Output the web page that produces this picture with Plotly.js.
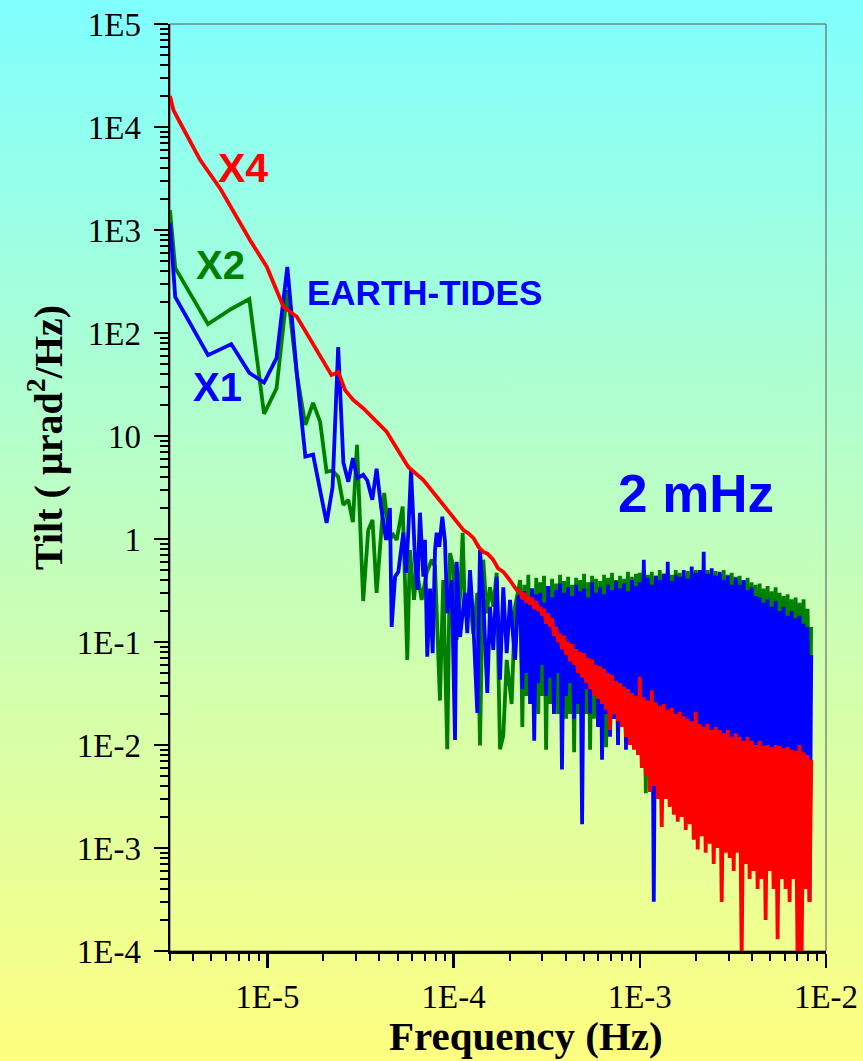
<!DOCTYPE html>
<html>
<head>
<meta charset="utf-8">
<script src="https://cdn.plot.ly/plotly-3.0.1.min.js"></script>
<style>
  html, body { margin:0; padding:0; }
  body { width:863px; height:1061px; background: linear-gradient(to bottom, #80FFFF 0%, #FFFF80 100%); overflow:hidden; }
  #chart { width:863px; height:1061px; }
</style>
</head>
<body>
<div id="chart"></div>
<script>
// ---------- X1 (blue) low/mid frequency part ----------
const fX1 = [3.0e-6, 3.2e-6, 4.8e-6, 6.4e-6, 8.0e-6, 9.6e-6, 1.12e-5, 1.28e-5, 1.44e-5, 1.60e-5,
  1.76e-5, 1.92e-5, 2.08e-5, 2.24e-5, 2.40e-5, 2.56e-5, 2.72e-5, 2.88e-5, 3.04e-5, 3.27e-5,
  3.44e-5, 3.66e-5, 3.86e-5, 4.08e-5, 4.34e-5, 4.55e-5, 4.65e-5, 4.85e-5, 5.05e-5, 5.37e-5,
  5.55e-5, 5.71e-5, 5.91e-5, 6.21e-5, 6.39e-5, 6.60e-5, 6.88e-5, 7.02e-5, 7.22e-5, 7.47e-5,
  7.72e-5, 7.95e-5, 8.11e-5, 8.38e-5, 8.70e-5, 8.99e-5, 9.25e-5, 9.77e-5, 1.018e-4, 1.039e-4,
  1.083e-4, 1.151e-4, 1.185e-4, 1.225e-4, 1.276e-4, 1.341e-4, 1.386e-4, 1.444e-4, 1.517e-4, 1.569e-4,
  1.634e-4, 1.704e-4, 1.775e-4, 1.849e-4, 1.929e-4, 2.01e-4, 2.14e-4, 2.23e-4];
const vX1 = [1170, 224, 61, 78, 41, 33, 57, 438, 40, 6.3,
  6.6, 3.0, 1.43, 3.2, 73, 5.5, 3.6, 6.1, 3.9, 4.2,
  3.7, 2.4, 4.8, 2.05, 0.98, 2.0, 0.14, 0.43, 0.48, 1.15,
  0.47, 1.15, 4.7, 0.63, 0.32, 1.8, 0.43, 0.98, 0.072, 0.33,
  0.078, 0.78, 1.15, 0.84, 1.65, 0.96, 0.19, 0.40, 0.0112, 0.60,
  0.112, 0.30, 0.122, 0.50, 0.153, 0.0205, 0.78, 0.256, 0.032, 0.22,
  0.084, 0.43, 0.043, 0.34, 0.078, 0.256, 0.067, 0.275];

// ---------- X2 (green) low/mid frequency part ----------
const fX2 = [3.0e-6, 3.2e-6, 4.8e-6, 6.4e-6, 8.0e-6, 9.6e-6, 1.12e-5, 1.28e-5, 1.44e-5, 1.60e-5,
  1.76e-5, 1.92e-5, 2.08e-5, 2.24e-5, 2.40e-5, 2.56e-5, 2.72e-5, 2.88e-5, 3.03e-5, 3.27e-5,
  3.48e-5, 3.67e-5, 3.86e-5, 4.24e-5, 4.52e-5, 4.74e-5, 4.95e-5, 5.33e-5, 5.48e-5, 5.64e-5,
  5.83e-5, 6.13e-5, 6.34e-5, 6.74e-5, 7.17e-5, 7.63e-5, 7.95e-5, 8.45e-5, 8.80e-5, 9.25e-5,
  9.57e-5, 9.97e-5, 1.039e-4, 1.083e-4, 1.119e-4, 1.151e-4, 1.225e-4, 1.276e-4, 1.341e-4, 1.386e-4,
  1.444e-4, 1.506e-4, 1.569e-4, 1.634e-4, 1.704e-4, 1.775e-4, 1.849e-4, 1.929e-4, 2.05e-4, 2.14e-4];
const vX2 = [1560, 428, 122, 171, 214, 16.4, 29, 261, 40, 12.8,
  21, 13.7, 4.5, 4.6, 4.0, 2.14, 2.4, 1.46, 8.2, 0.25,
  1.22, 1.53, 0.3, 2.8, 0.98, 1.1, 0.98, 2.06, 0.40, 0.067,
  0.78, 0.256, 0.50, 0.256, 0.47, 0.63, 0.54, 0.027, 0.40, 0.0091,
  0.73, 0.54, 0.105, 0.275, 1.15, 0.19, 0.256, 0.12, 0.30, 0.0099,
  0.63, 0.19, 0.34, 0.22, 0.47, 0.0091, 0.0123, 0.067, 0.025, 0.22];

// ---------- X4 (red) low/mid frequency part ----------
const fX4 = [3.0e-6, 3.13e-6, 3.4e-6, 4.35e-6, 5.6e-6, 8.06e-6, 9.92e-6, 1.22e-5, 1.44e-5, 1.63e-5, 1.84e-5,
  2.21e-5, 2.40e-5, 2.61e-5, 2.89e-5, 3.27e-5, 3.86e-5, 4.37e-5, 4.95e-5, 5.71e-5, 6.88e-5,
  8.11e-5, 9.57e-5, 1.05e-4, 1.13e-4, 1.20e-4, 1.28e-4, 1.36e-4, 1.44e-4, 1.52e-4, 1.63e-4,
  1.73e-4, 1.85e-4, 2.00e-4, 2.18e-4];
const vX4 = [20000, 14600, 11000, 4800, 2500, 800, 440, 180, 144, 99, 68,
  39, 42, 28, 22.4, 18.6, 13.8, 11.0, 7.6, 5.0, 3.74,
  2.58, 1.78, 1.45, 1.22, 1.14, 1.02, 0.84, 0.75, 0.72, 0.63,
  0.52, 0.48, 0.40, 0.32];

// ---------- shared high-frequency grid (dense noisy part) ----------
const fDense = [
  2.28e-4, 2.34e-4, 2.40e-4, 2.46e-4, 2.52e-4, 2.58e-4, 2.64e-4, 2.71e-4, 2.78e-4, 2.85e-4,
  2.92e-4, 2.99e-4, 3.06e-4, 3.14e-4, 3.22e-4, 3.30e-4, 3.38e-4, 3.46e-4, 3.55e-4, 3.64e-4,
  3.73e-4, 3.82e-4, 3.92e-4, 4.02e-4, 4.12e-4, 4.22e-4, 4.33e-4, 4.44e-4, 4.55e-4, 4.66e-4,
  4.78e-4, 4.90e-4, 5.02e-4, 5.15e-4, 5.28e-4, 5.41e-4, 5.54e-4, 5.68e-4, 5.82e-4, 5.97e-4,
  6.12e-4, 6.27e-4, 6.43e-4, 6.59e-4, 6.75e-4, 6.92e-4, 7.09e-4, 7.27e-4, 7.45e-4, 7.64e-4,
  7.83e-4, 8.03e-4, 8.23e-4, 8.43e-4, 8.64e-4, 8.86e-4, 9.08e-4, 9.31e-4, 9.54e-4, 9.78e-4,
  1.000e-3, 1.025e-3, 1.051e-3, 1.077e-3, 1.104e-3, 1.132e-3, 1.160e-3, 1.189e-3, 1.219e-3, 1.249e-3,
  1.280e-3, 1.312e-3, 1.345e-3, 1.379e-3, 1.413e-3, 1.448e-3, 1.485e-3, 1.522e-3, 1.560e-3, 1.599e-3,
  1.639e-3, 1.680e-3, 1.722e-3, 1.765e-3, 1.809e-3, 1.854e-3, 1.900e-3, 1.948e-3, 1.997e-3, 2.047e-3,
  2.098e-3, 2.150e-3, 2.204e-3, 2.259e-3, 2.316e-3, 2.374e-3, 2.433e-3, 2.494e-3, 2.556e-3, 2.620e-3,
  2.686e-3, 2.753e-3, 2.822e-3, 2.892e-3, 2.965e-3, 3.039e-3, 3.115e-3, 3.193e-3, 3.273e-3, 3.354e-3,
  3.438e-3, 3.524e-3, 3.612e-3, 3.703e-3, 3.795e-3, 3.890e-3, 3.987e-3, 4.087e-3, 4.189e-3, 4.294e-3,
  4.401e-3, 4.511e-3, 4.624e-3, 4.740e-3, 4.858e-3, 4.980e-3, 5.104e-3, 5.232e-3, 5.363e-3, 5.497e-3,
  5.634e-3, 5.775e-3, 5.919e-3, 6.067e-3, 6.219e-3, 6.374e-3, 6.534e-3, 6.697e-3, 6.865e-3, 7.036e-3,
  7.212e-3, 7.392e-3, 7.577e-3, 7.767e-3, 7.961e-3, 8.160e-3, 8.330e-3];

const x1Dense = [
  0.28, 0.035, 0.31, 0.05, 0.26, 0.025, 0.33, 0.011, 0.29, 0.04,
  0.3, 0.06, 0.24, 0.03, 0.35, 0.045, 0.27, 0.02, 0.32, 0.05,
  0.37, 0.0058, 0.3, 0.03, 0.34, 0.04, 0.28, 0.018, 0.36, 0.025,
  0.31, 0.0017, 0.33, 0.035, 0.27, 0.02, 0.38, 0.03, 0.3, 0.015,
  0.34, 0.0072, 0.29, 0.02, 0.36, 0.012, 0.32, 0.018, 0.39, 0.01,
  0.33, 0.015, 0.37, 0.009, 0.31, 0.013, 0.4, 0.011, 0.35, 0.008,
  0.38, 0.012, 0.63, 0.009, 0.42, 0.007, 0.36, 0.0003, 0.44, 0.008,
  0.4, 0.01, 0.46, 0.006, 0.6, 0.009, 0.39, 0.007, 0.45, 0.011,
  0.43, 0.008, 0.5, 0.006, 0.41, 0.009, 0.54, 0.007, 0.47, 0.01,
  0.5, 0.006, 0.75, 0.008, 0.46, 0.007, 0.52, 0.005, 0.44, 0.009,
  0.48, 0.007, 0.4, 0.006, 0.44, 0.008, 0.36, 0.005, 0.42, 0.007,
  0.36, 0.006, 0.4, 0.008, 0.32, 0.005, 0.34, 0.007, 0.28, 0.006,
  0.27, 0.005, 0.24, 0.007, 0.26, 0.006, 0.22, 0.005, 0.25, 0.007,
  0.2, 0.006, 0.22, 0.005, 0.18, 0.007, 0.2, 0.006, 0.17, 0.005,
  0.18, 0.006, 0.15, 0.005, 0.14, 0.0003, 0.075];

const x2Dense = [
  0.4, 0.015, 0.36, 0.03, 0.45, 0.025, 0.33, 0.04, 0.42, 0.02,
  0.38, 0.03, 0.44, 0.009, 0.35, 0.025, 0.41, 0.03, 0.37, 0.02,
  0.45, 0.025, 0.39, 0.018, 0.43, 0.02, 0.36, 0.0085, 0.42, 0.02,
  0.4, 0.015, 0.46, 0.02, 0.38, 0.009, 0.44, 0.018, 0.41, 0.015,
  0.39, 0.02, 0.45, 0.0095, 0.42, 0.015, 0.47, 0.018, 0.4, 0.012,
  0.44, 0.015, 0.41, 0.012, 0.48, 0.014, 0.43, 0.012, 0.46, 0.01,
  0.47, 0.012, 0.5, 0.0034, 0.45, 0.01, 0.48, 0.012, 0.44, 0.01,
  0.5, 0.01, 0.46, 0.012, 0.49, 0.01, 0.45, 0.01, 0.5, 0.012,
  0.47, 0.01, 0.44, 0.012, 0.49, 0.01, 0.46, 0.01, 0.5, 0.01,
  0.48, 0.012, 0.45, 0.01, 0.5, 0.01, 0.47, 0.012, 0.49, 0.01,
  0.46, 0.01, 0.5, 0.012, 0.45, 0.01, 0.47, 0.01, 0.43, 0.012,
  0.44, 0.01, 0.4, 0.012, 0.42, 0.01, 0.38, 0.01, 0.36, 0.012,
  0.37, 0.01, 0.33, 0.012, 0.35, 0.01, 0.31, 0.01, 0.34, 0.012,
  0.3, 0.01, 0.28, 0.012, 0.29, 0.01, 0.26, 0.01, 0.27, 0.012,
  0.24, 0.01, 0.26, 0.012, 0.21, 0.01, 0.14];

const x4Dense = [
  0.31, 0.26, 0.3, 0.24, 0.28, 0.23, 0.27, 0.21, 0.25, 0.2,
  0.22, 0.18, 0.21, 0.15, 0.19, 0.14, 0.17, 0.115, 0.14, 0.1,
  0.12, 0.085, 0.115, 0.075, 0.1, 0.065, 0.095, 0.06, 0.085, 0.05,
  0.08, 0.045, 0.078, 0.04, 0.07, 0.035, 0.068, 0.03, 0.06, 0.028,
  0.058, 0.025, 0.055, 0.022, 0.05, 0.014, 0.048, 0.02, 0.042, 0.017,
  0.04, 0.015, 0.037, 0.012, 0.035, 0.01, 0.032, 0.009, 0.03, 0.008,
  0.046, 0.006, 0.029, 0.005, 0.027, 0.0035, 0.034, 0.004, 0.026, 0.003,
  0.024, 0.0016, 0.025, 0.003, 0.022, 0.0025, 0.023, 0.0021, 0.02, 0.0018,
  0.021, 0.002, 0.019, 0.0015, 0.018, 0.0017, 0.017, 0.0012, 0.021, 0.00097,
  0.016, 0.0013, 0.015, 0.0009, 0.016, 0.0011, 0.014, 0.0007, 0.015, 0.001,
  0.014, 0.0003, 0.013, 0.0009, 0.014, 0.0008, 0.012, 0.0006, 0.013, 0.0009,
  0.012, 0.00008, 0.011, 0.0007, 0.012, 0.0005, 0.011, 0.0006, 0.01, 0.0004,
  0.011, 0.0005, 0.0099, 0.0002, 0.01, 0.0006, 0.0095, 0.0004, 0.01, 0.00013,
  0.0098, 0.0005, 0.0093, 0.0004, 0.0096, 0.0003, 0.009, 0.0005, 0.0088, 0.00008,
  0.01, 0.00008, 0.0085, 0.0004, 0.008, 0.0003, 0.0072];

// ---------- axis ticks ----------
const xTickVals = [1e-5, 1e-4, 1e-3, 1e-2];
const xTickText = ['1E-5', '1E-4', '1E-3', '1E-2'];
const yTickVals = [1e-4, 1e-3, 1e-2, 1e-1, 1, 10, 1e2, 1e3, 1e4, 1e5];
const yTickText = ['1E-4', '1E-3', '1E-2', '1E-1', '1', '10', '1E2', '1E3', '1E4', '1E5'];

const seriesNames = ['X2', 'X1', 'X4'];
const seriesColors = ['#008000', '#0000FF', '#FF0000'];

function minorTicks(eMin, eMax, lo) {
  const out = [];
  for (let e = eMin; e <= eMax; e++) {
    for (let d = 2; d <= 9; d++) {
      const v = d * Math.pow(10, e);
      if (v >= lo) out.push(v);
    }
  }
  return out;
}

const traces = [
  { x: fX2.concat(fDense), y: vX2.concat(x2Dense), name: seriesNames[0] },
  { x: fX1.concat(fDense), y: vX1.concat(x1Dense), name: seriesNames[1] },
  { x: fX4.concat(fDense), y: vX4.concat(x4Dense), name: seriesNames[2] }
].map((t, i) => Object.assign(t, {
  type: 'scatter', mode: 'lines',
  line: { color: seriesColors[i], width: 3.8 },
  hoverinfo: 'x+y+name'
}));

const serif = 'Liberation Serif, Times New Roman, serif';
const sans = 'Liberation Sans, Arial, sans-serif';

function axisBase() {
  return {
    type: 'log', showgrid: false, zeroline: false,
    showline: true, linecolor: '#000', linewidth: 2.5,
    ticks: 'outside', ticklen: 14, tickwidth: 2.5, tickcolor: '#000',
    tickmode: 'array',
    tickfont: { family: serif, size: 33, color: '#000' }
  };
}

const xaxis = Object.assign(axisBase(), {
  range: [Math.log10(3e-6), -2],
  tickvals: xTickVals, ticktext: xTickText,
  minor: { tickmode: 'array', tickvals: minorTicks(-6, -3, 3e-6), ticks: 'outside', ticklen: 7, tickwidth: 2, tickcolor: '#000', showgrid: false },
  ticklabelstandoff: 1
});
const yaxis = Object.assign(axisBase(), {
  range: [-4, 5],
  tickvals: yTickVals, ticktext: yTickText,
  minor: { tickmode: 'array', tickvals: minorTicks(-4, 4, 1e-4), ticks: 'outside', ticklen: 8, tickwidth: 2, tickcolor: '#000', showgrid: false },
  ticklabelstandoff: 6
});

const W = 656, H = 927, L = 170, T = 24;
function px(x) { return (x - L) / W; }
function py(y) { return (T + H - y) / H; }

const annotations = [
  { text: '<b>X4</b>', x: px(243), y: py(168), color: '#FF0000', size: 41 },
  { text: '<b>X2</b>', x: px(220), y: py(265), color: '#008000', size: 40 },
  { text: '<b>X1</b>', x: px(217), y: py(387), color: '#0000FF', size: 40 },
  { text: '<b>EARTH-TIDES</b>', x: px(424), y: py(292), color: '#0000FF', size: 35 },
  { text: '<b>2 mHz</b>', x: px(696), y: py(493), color: '#0000FF', size: 53 }
].map(a => ({
  text: a.text, x: a.x, y: a.y, xref: 'paper', yref: 'paper',
  xanchor: 'center', yanchor: 'middle', showarrow: false,
  font: { family: sans, size: a.size, color: a.color }
}));

// axis titles placed as annotations to match the reference offsets
annotations.push({
  text: '<b>Frequency (Hz)</b>', x: px(526), y: py(1060), xref: 'paper', yref: 'paper',
  xanchor: 'center', yanchor: 'bottom', showarrow: false, borderpad: 0,
  font: { family: serif, size: 41, color: '#000' }
});
annotations.push({
  text: '<b>Tilt ( µrad<sup>2</sup>/Hz)</b>', x: px(45), y: py(438), xref: 'paper', yref: 'paper',
  xanchor: 'center', yanchor: 'middle', showarrow: false, textangle: -90,
  font: { family: serif, size: 40, color: '#000' }
});

const layout = {
  width: 863, height: 1061,
  margin: { l: L, r: 863 - L - W, t: T, b: 1061 - T - H },
  paper_bgcolor: 'rgba(0,0,0,0)', plot_bgcolor: 'rgba(0,0,0,0)',
  showlegend: false,
  xaxis: xaxis, yaxis: yaxis,
  annotations: annotations,
  shapes: [{ type: 'rect', xref: 'paper', yref: 'paper', x0: 0, x1: 1, y0: 0, y1: 1,
             line: { color: '#555555', width: 1 }, layer: 'below' }]
};

Plotly.newPlot('chart', traces, layout, { staticPlot: true, displayModeBar: false });
</script>
</body>
</html>
